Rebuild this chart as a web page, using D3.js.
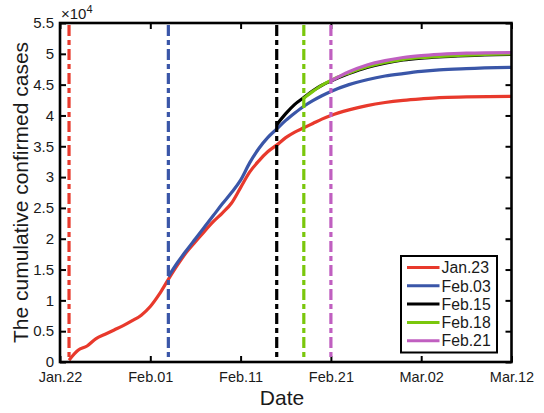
<!DOCTYPE html>
<html>
<head>
<meta charset="utf-8">
<script src="https://cdn.jsdelivr.net/npm/d3@7"></script>
<style>
  html, body { margin: 0; padding: 0; background: #fff; }
  svg { display: block; font-family: "Liberation Sans", Arial, Helvetica, sans-serif; }
</style>
</head>
<body>
<svg id="chart" width="544" height="413"></svg>
<script>
// ---- data (values in units of 10^4 cases; x = days since Jan.22, 2020) ----
const seriesNames = ["Jan.23", "Feb.03", "Feb.15", "Feb.18", "Feb.21"];
const seriesColors = ["#e8392c", "#3a56a8", "#000000", "#7ac70c", "#c05fc0"];
const startDays = [1, 12, 24, 27, 30];

const jan23Days = [1,2,3,4,5,6,7,8,9,10,11,12,13,14,15,16,17,18,19,20,21,22,23,24,25,26,27,28,29,30,32,34,36,38,40,42,45,50];
const jan23Vals = [0.03,0.19,0.26,0.38,0.45,0.52,0.59,0.67,0.76,0.90,1.10,1.34,1.57,1.78,1.95,2.12,2.28,2.42,2.58,2.83,3.08,3.26,3.41,3.52,3.64,3.73,3.80,3.87,3.94,4.00,4.09,4.16,4.21,4.245,4.27,4.29,4.30,4.31];

const feb03Days = [12,13,14,15,16,17,18,19,20,21,22,23,24,25,26,27,28,29,30,32,34,36,38,40,42,45,50];
const feb03Vals = [1.385,1.61,1.81,2.00,2.19,2.38,2.57,2.75,2.95,3.23,3.46,3.64,3.78,3.92,4.04,4.15,4.24,4.32,4.39,4.50,4.58,4.64,4.68,4.715,4.74,4.76,4.78];

const feb15Days = [24,25,26,27,28,29,30,32,34,36,38,40,42,45,50];
const feb15Vals = [3.85,4.03,4.18,4.29,4.40,4.49,4.56,4.68,4.78,4.85,4.90,4.93,4.95,4.97,4.99];

const feb18Days = [27,28,29,30,32,34,36,38,40,42,45,50];
const feb18Vals = [4.28,4.39,4.49,4.57,4.69,4.79,4.86,4.91,4.94,4.96,4.98,5.00];

const feb21Days = [30,32,34,36,38,40,42,45,50];
const feb21Vals = [4.56,4.71,4.82,4.89,4.94,4.97,4.99,5.01,5.02];

const xTickLabels = ["Jan.22", "Feb.01", "Feb.11", "Feb.21", "Mar.02", "Mar.12"];
const xTickDays = [0, 10, 20, 30, 40, 50];
const yTicks = [0, 0.5, 1, 1.5, 2, 2.5, 3, 3.5, 4, 4.5, 5, 5.5];

// ---- build ----
const base = Date.UTC(2020, 0, 22);
const toDate = d => new Date(base + d * 86400000);

const allSeries = [
  {days: jan23Days, vals: jan23Vals},
  {days: feb03Days, vals: feb03Vals},
  {days: feb15Days, vals: feb15Vals},
  {days: feb18Days, vals: feb18Vals},
  {days: feb21Days, vals: feb21Vals}
].map((s, i) => ({
  name: seriesNames[i],
  color: seriesColors[i],
  start: startDays[i],
  points: s.days.map((d, j) => ({date: toDate(d), v: s.vals[j]}))
}));

const L = 60, R = 511.5, T = 23, B = 362;
const svg = d3.select("#chart");

const x = d3.scaleUtc().domain([toDate(0), toDate(50)]).range([L, R]);
const y = d3.scaleLinear().domain([0, 5.5]).range([B, T]);

const textColor = "#1a1a1a";

// axes
const xAxis = d3.axisBottom(x).tickValues(xTickDays.map(toDate))
  .tickFormat((d, i) => xTickLabels[i]).tickSize(-6).tickSizeOuter(0);
const gx = svg.append("g").attr("transform", `translate(0,${B})`).call(xAxis);
gx.select(".domain").remove();
gx.selectAll("line").attr("stroke", "#000").attr("stroke-width", 2);
gx.selectAll("text").attr("y", 10).attr("dy", "0.71em")
  .attr("font-size", 14.5).attr("fill", textColor).attr("font-family", null);

const xAxisTop = d3.axisTop(x).tickValues(xTickDays.map(toDate))
  .tickFormat("").tickSize(-6).tickSizeOuter(0);
const gxt = svg.append("g").attr("transform", `translate(0,${T})`).call(xAxisTop);
gxt.select(".domain").remove();
gxt.selectAll("line").attr("stroke", "#000").attr("stroke-width", 2);

const yAxis = d3.axisLeft(y).tickValues(yTicks).tickFormat(d3.format("~g"))
  .tickSize(-6).tickSizeOuter(0);
const gy = svg.append("g").attr("transform", `translate(${L},0)`).call(yAxis);
gy.select(".domain").remove();
gy.selectAll("line").attr("stroke", "#000").attr("stroke-width", 2);
gy.selectAll("text").attr("x", -6).attr("font-size", 15)
  .attr("fill", textColor).attr("font-family", null);

const yAxisR = d3.axisRight(y).tickValues(yTicks).tickFormat("")
  .tickSize(-6).tickSizeOuter(0);
const gyr = svg.append("g").attr("transform", `translate(${R},0)`).call(yAxisR);
gyr.select(".domain").remove();
gyr.selectAll("line").attr("stroke", "#000").attr("stroke-width", 2);

// curves
const line = d3.line().x(d => x(d.date)).y(d => y(d.v)).curve(d3.curveMonotoneX);
svg.append("g").selectAll("path").data(allSeries).join("path")
  .attr("d", d => line(d.points))
  .attr("fill", "none")
  .attr("stroke", d => d.color)
  .attr("stroke-width", 3.2)
  .attr("stroke-linejoin", "round");

// vertical dash-dot lines
svg.append("g").selectAll("line").data(allSeries).join("line")
  .attr("x1", d => x(toDate(d.start))).attr("x2", d => x(toDate(d.start)))
  .attr("y1", y(5.5) + 2).attr("y2", y(0))
  .attr("stroke", d => d.color)
  .attr("stroke-width", 3.2)
  .attr("stroke-dasharray", "11,4,5,4");

// frame
svg.append("rect").attr("x", L).attr("y", T).attr("width", R - L).attr("height", B - T)
  .attr("fill", "none").attr("stroke", "#000").attr("stroke-width", 2.6);

// exponent label
const exp = svg.append("text").attr("x", 61).attr("y", 19).attr("font-size", 15).attr("fill", textColor);
exp.append("tspan").text("\u00d710");
exp.append("tspan").attr("font-size", 11).attr("dy", -6).text("4");

// axis titles
svg.append("text").attr("x", 282).attr("y", 405).attr("text-anchor", "middle")
  .attr("font-size", 21).attr("fill", textColor).text("Date");
svg.append("text").attr("transform", `translate(28,${(T + B) / 2}) rotate(-90)`)
  .attr("text-anchor", "middle").attr("font-size", 21).attr("fill", textColor)
  .text("The cumulative confirmed cases");

// legend
const lg = svg.append("g");
lg.append("rect").attr("x", 401).attr("y", 256).attr("width", 96).attr("height", 96.5)
  .attr("fill", "#fff").attr("stroke", "#000").attr("stroke-width", 2);
const rows = lg.selectAll("g.row").data(allSeries).join("g")
  .attr("transform", (d, i) => `translate(0,${267.5 + i * 18.3})`);
rows.append("line").attr("x1", 407).attr("x2", 439.5).attr("y1", 0).attr("y2", 0)
  .attr("stroke", d => d.color).attr("stroke-width", 3);
rows.append("text").attr("x", 441.5).attr("y", 0).attr("dy", "0.36em")
  .attr("font-size", 15.8).attr("fill", textColor).text(d => d.name);
</script>
</body>
</html>
